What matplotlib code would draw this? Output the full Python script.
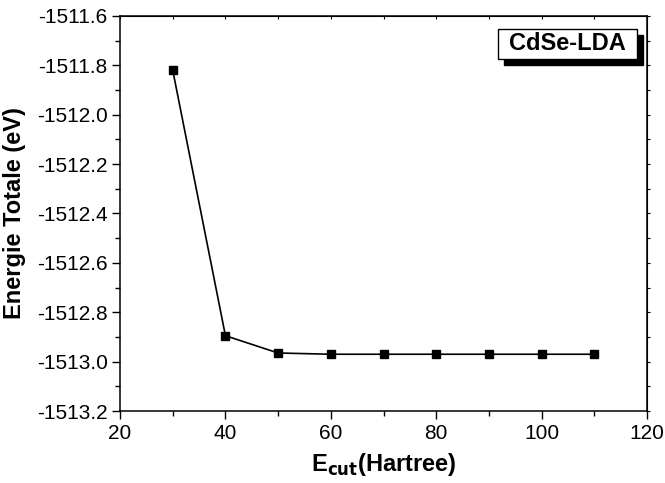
import matplotlib.pyplot as plt
import numpy as np
from matplotlib.patches import Rectangle
from matplotlib.ticker import MultipleLocator, FormatStrFormatter

plt.rcParams['font.family'] = ['Liberation Sans', 'DejaVu Sans']

# cutoff energy (Hartree) and total energy (eV)
ecut = [30, 40, 50, 60, 70, 80, 90, 100, 110]
energie = [-1511.82, -1512.895, -1512.965, -1512.97, -1512.97,
           -1512.97, -1512.97, -1512.97, -1512.97]

fig = plt.figure(figsize=(6.65, 4.83), dpi=100)
ax = fig.add_axes([0.1805, 0.149, 0.7925, 0.818])

ax.plot(ecut, energie, color='black', lw=1.2, marker='s', ms=5.5,
        mfc='black', mec='black')

ax.set_xlim(20, 120)
ax.set_ylim(-1513.2, -1511.6)
ax.xaxis.set_major_locator(MultipleLocator(20))
ax.xaxis.set_minor_locator(MultipleLocator(10))
ax.yaxis.set_major_locator(MultipleLocator(0.2))
ax.yaxis.set_minor_locator(MultipleLocator(0.1))
ax.yaxis.set_major_formatter(FormatStrFormatter('%.1f'))

ax.tick_params(which='major', direction='out', length=6, width=1,
               labelsize=15, top=False, right=False)
ax.tick_params(which='minor', direction='out', length=3.5, width=1,
               top=False, right=False)
ax.tick_params(axis='both', which='major', pad=3)
for s in ax.spines.values():
    s.set_linewidth(1.1)

# small marks on the top and right frame
ax2 = ax.secondary_xaxis('top')
ax2.xaxis.set_major_locator(MultipleLocator(10))
ax2.tick_params(direction='in', length=2, labeltop=False)
ax3 = ax.secondary_yaxis('right')
ax3.yaxis.set_major_locator(MultipleLocator(0.1))
ax3.tick_params(direction='out', length=2, labelright=False)

ax.set_xlabel(r'E$_{\mathbf{cut}}$(Hartree)', fontsize=17, fontweight='bold', labelpad=6)
ax.set_ylabel('Energie Totale (eV)', fontsize=17, fontweight='bold', labelpad=8)

# boxed title with drop shadow
bx, by, bw, bh = 0.717, 0.891, 0.264, 0.076
ax.add_patch(Rectangle((bx + 0.0114, by - 0.0152), bw, bh, transform=ax.transAxes,
                       fc='black', ec='black', lw=1, zorder=4, clip_on=False))
ax.add_patch(Rectangle((bx, by), bw, bh, transform=ax.transAxes,
                       fc='white', ec='black', lw=1, zorder=5, clip_on=False))
ax.text(bx + bw / 2, by + bh / 2, 'CdSe-LDA', transform=ax.transAxes, fontsize=17,
        fontweight='bold', ha='center', va='center', zorder=6)

fig.savefig('out.png', dpi=100)
